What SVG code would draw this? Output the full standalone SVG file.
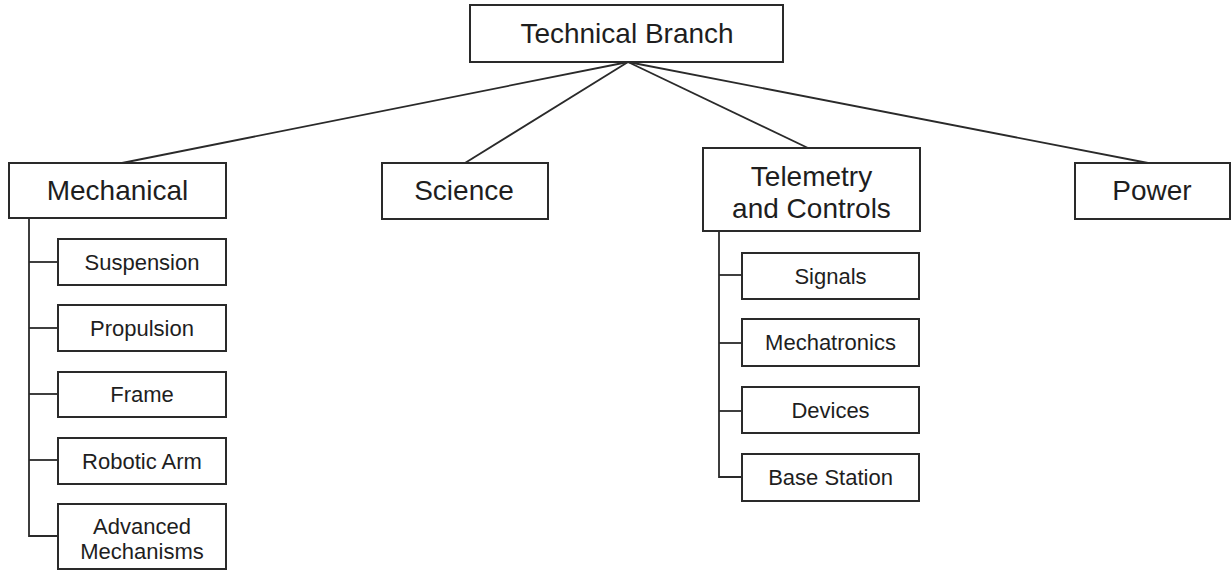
<svg xmlns="http://www.w3.org/2000/svg" width="1231" height="571" viewBox="0 0 1231 571">
<style>
  .box { fill: #ffffff; stroke: #2a2a2a; stroke-width: 2; }
  .big { font-family: "Liberation Sans", Arial, sans-serif; font-size: 28px; fill: #1e1e1e; text-anchor: middle; }
  .small { font-family: "Liberation Sans", Arial, sans-serif; font-size: 22px; fill: #1e1e1e; text-anchor: middle; }
  .conn { fill: none; stroke: #2a2a2a; stroke-width: 1.8; }
</style>
<rect x="0" y="0" width="1231" height="571" fill="#ffffff"/>
<g id="connectors">
  <line class="conn" x1="628" y1="62" x2="122" y2="163"/>
  <line class="conn" x1="628" y1="62" x2="465" y2="163"/>
  <line class="conn" x1="628" y1="62" x2="808" y2="148"/>
  <line class="conn" x1="628" y1="62" x2="1148" y2="163"/>
  <polyline class="conn" points="29,218 29,536 58,536"/>
  <line class="conn" x1="29" y1="262" x2="58" y2="262"/>
  <line class="conn" x1="29" y1="328" x2="58" y2="328"/>
  <line class="conn" x1="29" y1="394" x2="58" y2="394"/>
  <line class="conn" x1="29" y1="460" x2="58" y2="460"/>
  <polyline class="conn" points="719,231 719,477 742,477"/>
  <line class="conn" x1="719" y1="275" x2="742" y2="275"/>
  <line class="conn" x1="719" y1="343" x2="742" y2="343"/>
  <line class="conn" x1="719" y1="411" x2="742" y2="411"/>
</g>
<g id="technical-branch">
  <rect class="box" x="470" y="5" width="313" height="57"/>
  <text class="big" x="627" y="43">Technical Branch</text>
</g>
<g id="mechanical">
  <rect class="box" x="9" y="163" width="217" height="55"/>
  <text class="big" x="117.5" y="200">Mechanical</text>
</g>
<g id="science">
  <rect class="box" x="382" y="163" width="166" height="56"/>
  <text class="big" x="464" y="200">Science</text>
</g>
<g id="telemetry">
  <rect class="box" x="703" y="148" width="217" height="83"/>
  <text class="big" x="811.5" y="186">Telemetry</text>
  <text class="big" x="811.5" y="218">and Controls</text>
</g>
<g id="power">
  <rect class="box" x="1075" y="163" width="155" height="56"/>
  <text class="big" x="1152" y="200">Power</text>
</g>
<g id="suspension">
  <rect class="box" x="58" y="239" width="168" height="46"/>
  <text class="small" x="142" y="270">Suspension</text>
</g>
<g id="propulsion">
  <rect class="box" x="58" y="305" width="168" height="46"/>
  <text class="small" x="142" y="336">Propulsion</text>
</g>
<g id="frame">
  <rect class="box" x="58" y="372" width="168" height="45"/>
  <text class="small" x="142" y="402">Frame</text>
</g>
<g id="robotic-arm">
  <rect class="box" x="58" y="438" width="168" height="46"/>
  <text class="small" x="142" y="469">Robotic Arm</text>
</g>
<g id="advanced-mechanisms">
  <rect class="box" x="58" y="504" width="168" height="65"/>
  <text class="small" x="142" y="534">Advanced</text>
  <text class="small" x="142" y="559">Mechanisms</text>
</g>
<g id="signals">
  <rect class="box" x="742" y="253" width="177" height="46"/>
  <text class="small" x="830.5" y="284">Signals</text>
</g>
<g id="mechatronics">
  <rect class="box" x="742" y="319" width="177" height="47"/>
  <text class="small" x="830.5" y="350">Mechatronics</text>
</g>
<g id="devices">
  <rect class="box" x="742" y="387" width="177" height="46"/>
  <text class="small" x="830.5" y="418">Devices</text>
</g>
<g id="base-station">
  <rect class="box" x="742" y="454" width="177" height="47"/>
  <text class="small" x="830.5" y="485">Base Station</text>
</g>
</svg>
